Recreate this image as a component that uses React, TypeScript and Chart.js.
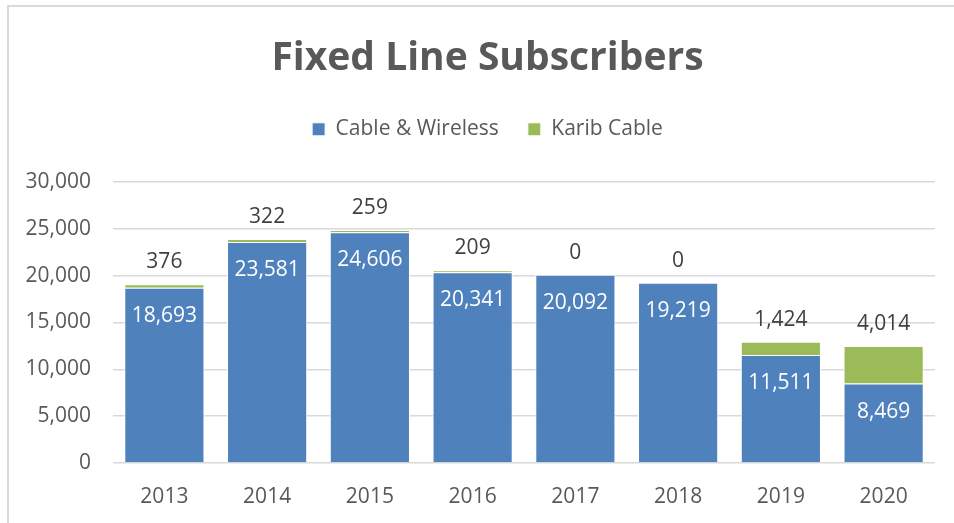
import React, { useEffect, useRef } from "react";
import { Chart, registerables } from "chart.js";

Chart.register(...registerables);

const categories = ["2013", "2014", "2015", "2016", "2017", "2018", "2019", "2020"];
const cableWireless = [18693, 23581, 24606, 20341, 20092, 19219, 11511, 8469];
const karibCable = [376, 322, 259, 209, 0, 0, 1424, 4014];
const seriesNames = ["Cable & Wireless", "Karib Cable"];
const yTicks = [0, 5000, 10000, 15000, 20000, 25000, 30000];

const FONT = "'Open Sans', 'Noto Sans', sans-serif";
const GRAY = "#595959";

const fmt = (v: number) => v.toLocaleString("en-US");

const labelPlugin = {
  id: "barLabels",
  afterDatasetsDraw(chart: any) {
    const ctx = chart.ctx;
    ctx.save();
    ctx.font = `21px ${FONT}`;
    ctx.textAlign = "center";
    ctx.textBaseline = "middle";
    chart.data.datasets.forEach((ds: any, di: number) => {
      const meta = chart.getDatasetMeta(di);
      meta.data.forEach((el: any, i: number) => {
        const v = ds.data[i];
        if (di === 0) {
          ctx.fillStyle = "#ffffff";
          ctx.fillText(fmt(v), el.x, el.y + 28);
        } else {
          ctx.fillStyle = "#404040";
          ctx.fillText(fmt(v), el.x, el.y - 22);
        }
      });
    });
    ctx.restore();
  },
};

const layoutTweaks = {
  id: "layoutTweaks",
  beforeLayout(chart: any) {
    const lg = chart.legend;
    if (lg && !lg.__patched) {
      const orig = lg.fit.bind(lg);
      lg.fit = function () {
        orig();
        this.height += 32;
      };
      lg.__patched = true;
    }
  },
  afterLayout(chart: any) {
    const y = chart.scales.y;
    if (y) {
      y.left = 0;
      y.width = y.right;
    }
  },
};

export default function App() {
  const ref = useRef<HTMLCanvasElement>(null);
  useEffect(() => {
    document.body.style.overflow = "hidden";
    const chart = new Chart(ref.current!, {
      type: "bar",
      data: {
        labels: categories,
        datasets: [
          {
            label: seriesNames[0],
            data: cableWireless,
            backgroundColor: "#4f81bd",
            borderColor: "#ffffff",
            borderWidth: 1,
            barPercentage: 0.78,
            categoryPercentage: 1,
          },
          {
            label: seriesNames[1],
            data: karibCable,
            backgroundColor: "#9bbb59",
            borderColor: "#ffffff",
            borderWidth: 1,
            barPercentage: 0.78,
            categoryPercentage: 1,
          },
        ],
      },
      options: {
        animation: false,
        responsive: false,
        maintainAspectRatio: false,
        layout: { padding: { left: 40, right: 19, top: 0, bottom: 0 } },
        plugins: {
          title: {
            display: true,
            text: "Fixed Line Subscribers",
            color: GRAY,
            font: { family: FONT, size: 39, weight: "bold" },
            padding: { top: 35, bottom: 8 },
          },
          legend: {
            display: true,
            position: "top",
            labels: {
              color: GRAY,
              font: { family: FONT, size: 21 },
              boxWidth: 13,
              boxHeight: 13,
              padding: 29,
            },
          },
          tooltip: { enabled: false },
        },
        scales: {
          x: {
            stacked: true,
            grid: { display: false },
            border: { display: false },
            ticks: { color: GRAY, font: { family: FONT, size: 21 }, padding: 13 },
            afterFit(scale: any) {
              scale.height = 60;
            },
          },
          y: {
            stacked: true,
            min: 0,
            max: 30000,
            afterBuildTicks(scale: any) {
              scale.ticks = yTicks.map((v) => ({ value: v }));
            },
            grid: { color: "#d9d9d9", lineWidth: 1.5, drawTicks: false },
            border: { display: false },
            ticks: {
              color: GRAY,
              font: { family: FONT, size: 21 },
              padding: 22,
              callback: (v: any) => fmt(Number(v)),
            },
            afterFit(scale: any) {
              scale.width = 73;
            },
          },
        },
      },
      plugins: [labelPlugin, layoutTweaks],
    });
    return () => chart.destroy();
  }, []);
  return (
    <div>
      <div
        style={{
          position: "fixed",
          left: 7,
          top: 5,
          width: 1000,
          height: 600,
          borderLeft: "2px solid #d9d9d9",
          borderTop: "2px solid #d9d9d9",
        }}
      />
      <canvas
        ref={ref}
        width={954}
        height={523}
        style={{ position: "fixed", left: 0, top: 0, width: 954, height: 523 }}
      />
    </div>
  );
}
